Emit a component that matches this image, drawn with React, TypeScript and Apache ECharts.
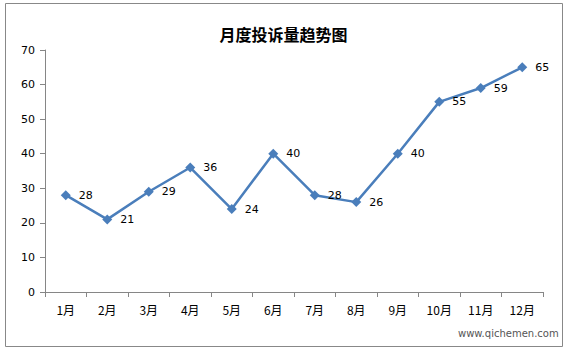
import React, { useEffect, useRef } from "react";
import * as echarts from "echarts";

const months = ["1月", "2月", "3月", "4月", "5月", "6月", "7月", "8月", "9月", "10月", "11月", "12月"];
const complaints = [28, 21, 29, 36, 24, 40, 28, 26, 40, 55, 59, 65];
const titleText = "月度投诉量趋势图";
const watermark = "www.qichemen.com";

export default function App() {
  const ref = useRef<HTMLDivElement>(null);
  useEffect(() => {
    if (!ref.current) return;
    const chart = echarts.init(ref.current, null, { renderer: "svg" });
    chart.setOption({
      animation: false,
      backgroundColor: "#ffffff",
      title: {
        text: titleText,
        left: "center",
        top: 21,
        textStyle: { fontFamily: "Noto Sans CJK SC", fontSize: 16, fontWeight: "bold", color: "#000" },
      },
      grid: { left: 45, right: 24, top: 50, bottom: 60 },
      xAxis: {
        type: "category",
        data: months,
        boundaryGap: true,
        axisLine: { lineStyle: { color: "#868686", width: 1 } },
        axisTick: { show: true, length: 5, lineStyle: { color: "#868686" } },
        axisLabel: { color: "#000", fontSize: 12, fontFamily: "Noto Sans CJK SC", margin: 11 },
        splitLine: { show: false },
      },
      yAxis: {
        type: "value",
        min: 0,
        max: 70,
        interval: 10,
        axisLine: { show: true, lineStyle: { color: "#868686", width: 1 } },
        axisTick: { show: true, length: 5, lineStyle: { color: "#868686" } },
        axisLabel: { color: "#000", fontSize: 11, fontFamily: "DejaVu Sans", margin: 10 },
        splitLine: { show: false },
      },
      graphic: [
        {
          type: "rect",
          shape: { x: 5.5, y: 3.5, width: 557, height: 343 },
          style: { fill: "none", stroke: "#888", lineWidth: 1 },
          silent: true,
          z: -1,
        },
        {
          type: "text",
          x: 458,
          y: 328,
          style: { text: watermark, fill: "#555", fontSize: 10, fontFamily: "DejaVu Sans" },
        },
      ],
      series: [
        {
          type: "line",
          data: complaints,
          symbol: "diamond",
          symbolSize: 10,
          lineStyle: { color: "#4A7EBB", width: 2.5 },
          itemStyle: { color: "#4A7EBB" },
          label: {
            show: true,
            position: "right",
            distance: 8,
            color: "#000",
            fontSize: 11,
            fontFamily: "DejaVu Sans",
          },
        },
      ],
    });
    return () => chart.dispose();
  }, []);
  return <div ref={ref} style={{ position: "absolute", left: 0, top: 0, width: 567, height: 352 }} />;
}
